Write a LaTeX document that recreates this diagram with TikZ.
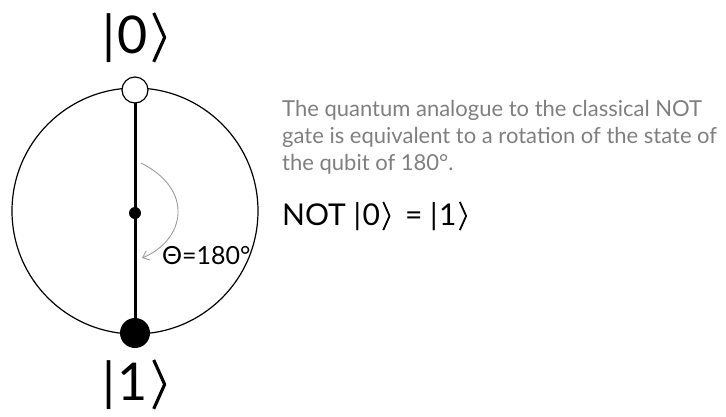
\documentclass[tikz,border=0pt]{standalone}
\usepackage{fontspec}
\setmainfont{Lato}
\usetikzlibrary{arrows.meta}
\definecolor{txtgrey}{HTML}{7F7F7F}
\definecolor{arrgrey}{HTML}{9A9A9A}
\newcommand{\abr}{\tikz[baseline=0pt, x=1em, y=1em]{\path (0,-0.19) rectangle (0.3,0.79); \draw[line width=0.06em, line join=round] (0.03,0.77) -- (0.24,0.3) -- (0.03,-0.17);}}
\newcommand{\myket}[1]{|\kern0.05em#1\kern0.08em\abr}
\tikzset{
  ket/.style={anchor=base, inner sep=0pt, font=\fontsize{52}{56}\selectfont},
  desc/.style={anchor=base west, inner sep=0pt, text=txtgrey, font=\fontsize{22}{26}\selectfont},
  bigeq/.style={anchor=base west, inner sep=0pt, font=\fontsize{30}{34}\selectfont},
}
\begin{document}
\begin{tikzpicture}[x=1pt,y=1pt]
\useasboundingbox (0,0) rectangle (726,-416);
\coordinate (c) at (135,-211);
\draw[line width=1.2pt] (c) circle (123);
\coordinate (top) at (135,-90);
\coordinate (bot) at (135,-333);
\draw[line width=3pt] (top) -- (bot);
\node[circle, draw, line width=1.2pt, fill=white, minimum size=26pt, inner sep=0pt] (zero) at (top) {};
\node[circle, fill=black, minimum size=30pt, inner sep=0pt] (one) at (bot) {};
\node[circle, fill=black, minimum size=12pt, inner sep=0pt] (mid) at (135,-213) {};
\coordinate (as) at (141,-163);
\coordinate (ae) at (142,-258);
\draw[arrgrey, line width=0.9pt, -{Straight Barb[length=6pt,width=10pt]}] (as) .. controls (195,-190) and (185,-240) .. (ae);
\node[anchor=west, inner sep=0pt, font=\fontsize{25}{28}\selectfont] (theta) at (162,-256) {Θ=180°};
\node[ket] (k0) at (135,-53) {\myket{0}};
\node[ket] (k1) at (135,-400) {\myket{1}};
\node[desc] (d1) at (282,-116) {The quantum analogue to the classical NOT};
\node[desc] (d2) at (282,-143) {gate is equivalent to a rotation of the state of};
\node[desc] (d3) at (282,-170) {the qubit of 180°.};
\node[bigeq] (eq) at (282,-225) {NOT \myket{0} \kern0.2em= \myket{1}};
\end{tikzpicture}
\end{document}
